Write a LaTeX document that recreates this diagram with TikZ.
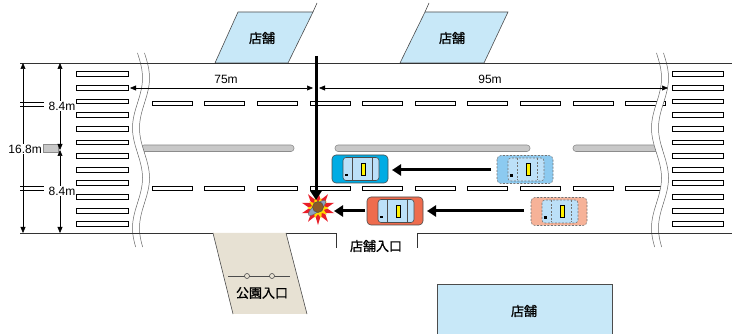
\documentclass[tikz,border=0pt]{standalone}
\usepackage{fontspec}
\setmainfont{Liberation Sans}
\newfontfamily\jp[AutoFakeBold=1.2]{Noto Sans CJK JP}
\usetikzlibrary{arrows.meta,shapes.geometric}

\definecolor{shopblue}{RGB}{200,232,248}
\definecolor{parkbeige}{RGB}{231,225,211}
\definecolor{median}{RGB}{200,200,200}
\definecolor{carblue}{RGB}{0,172,228}
\definecolor{carbluefade}{RGB}{140,202,240}
\definecolor{carred}{RGB}{238,108,78}
\definecolor{carredfade}{RGB}{246,178,152}
\definecolor{glass}{RGB}{188,224,248}
\definecolor{bikeblue}{RGB}{140,160,190}
\definecolor{rider}{RGB}{140,90,40}
\definecolor{boomred}{RGB}{232,30,40}
\definecolor{boomyellow}{RGB}{255,214,0}

% car seen from above, nose to the left; #1,#2 top left corner
\newcommand{\car}[4]{%
\begin{scope}[shift={(#1,#2)}]
\filldraw[fill=#3,#4,rounded corners=4pt] (0,0) rectangle (56,28);
\filldraw[fill=glass,#4,rounded corners=3pt] (11,2.5) rectangle (47,25.5);
\draw[#4] (20,3) -- (20,25) (40,3) -- (40,25);
\filldraw[fill=yellow,draw=black,line width=.4pt] (29,8) rectangle (33,20);
\fill[black] (13,19) rectangle (15.5,21.5);
\end{scope}}

\begin{document}
\begin{tikzpicture}[x=1pt,y=-1pt,
  edge/.style={line width=.7pt,black!80},
  shop/.style={fill=shopblue,draw=black!70,line width=.6pt},
  stripe/.style={fill=white,draw=black,line width=.5pt},
  bar/.style={fill=median,draw=black!45,line width=.6pt,rounded corners=3pt},
  dim/.style={line width=.5pt,{Triangle[length=6pt,width=5pt]}-{Triangle[length=6pt,width=5pt]}},
  move/.style={line width=3pt,-{Triangle[length=9pt,width=11pt]}},
  lbl/.style={font=\fontsize{12}{12}\selectfont,inner sep=1pt},
  jlbl/.style={font=\jp\bfseries\fontsize{13}{13}\selectfont,inner sep=1pt},
  solid car/.style={draw=black!70,line width=.6pt},
  ghost car/.style={draw=black!55,line width=.6pt,dashed,dash pattern=on 2pt off 1.5pt}]
\useasboundingbox (0,0) rectangle (732,334);

% shops beyond the road
\filldraw[shop] (215,63) -- (238,12) -- (313,12) -- (288,63) -- cycle;
\draw[black!70,line width=.6pt] (313,12) -- (317,3);
\node[jlbl] (shopA) at (262,38) {店舗};
\filldraw[shop] (400,63) -- (425,12) -- (508,12) -- (484,63) -- cycle;
\draw[black!70,line width=.6pt] (425,12) -- (429,3);
\node[jlbl] (shopB) at (452,38) {店舗};

% lane lines
\foreach \i in {0,...,9} {
  \filldraw[stripe] ({152+52.6*\i},101.5) rectangle ({152+52.6*\i+40},105.5);
  \filldraw[stripe] ({152+52.6*\i},186) rectangle ({152+52.6*\i+40},190);
}
\draw[black,line width=.5pt] (20,102) -- (44,102) (20,106) -- (44,106);
\draw[black,line width=.5pt] (20,186) -- (44,186) (20,190) -- (44,190);

% median strip
\filldraw[bar] (141,145) rectangle (294,151.5);
\filldraw[bar] (335,145) rectangle (530,151.5);
\filldraw[bar] (573,145) rectangle (662,151.5);
\filldraw[fill=median,draw=black!45,line width=.6pt] (43,144.5) rectangle (58,152);

% crosswalks
\foreach \i in {0,...,11} {
  \filldraw[stripe] (76,{74+13.64*\i-2.4}) rectangle (128,{74+13.64*\i+2.4});
  \filldraw[stripe] (672,{74+13.64*\i-2.4}) rectangle (723,{74+13.64*\i+2.4});
}

% breaks in the road
\foreach \c in {141,660} {
  \fill[white] plot[domain=53:247,variable=\t,samples=60] ({\c-3.5+5*sin(3.6*(\t-53))},\t)
    -- plot[domain=247:53,variable=\t,samples=60] ({\c+3.5+5*sin(3.6*(\t-53))},\t) -- cycle;
  \draw[black!60,line width=.5pt] plot[domain=53:247,variable=\t,samples=60] ({\c-3.5+5*sin(3.6*(\t-53))},\t);
  \draw[black!60,line width=.5pt] plot[domain=53:247,variable=\t,samples=60] ({\c+3.5+5*sin(3.6*(\t-53))},\t);
}

% road edges and entrances
\draw[edge] (20,63) -- (732,63);
\draw[edge] (20,233) -- (213,233);
\draw[edge] (286,233) -- (336,233) -- (336,248);
\draw[edge] (417,248) -- (417,233) -- (732,233);
\node[jlbl] (shopGate) at (376,246) {店舗入口};

% park entrance
\fill[parkbeige] (213,233) -- (286,233) -- (307,314) -- (233,314) -- cycle;
\draw[black!70,line width=.6pt] (213,233) -- (233,314) (286,233) -- (307,314);
\draw[black!70,line width=.8pt] (228,276) -- (290,276);
\filldraw[fill=parkbeige,draw=black!70,line width=.6pt] (247,276) circle (2.5) (272,276) circle (2.5);
\node[jlbl] (parkGate) at (262,293) {公園入口};

% shop across the road
\filldraw[shop] (437,284) rectangle (612,340);
\node[jlbl] (shopC) at (524,311) {店舗};

% dimensions
\coordinate (roadTop) at (23,63); \coordinate (roadBot) at (23,233);
\draw[dim] (roadTop) -- (roadBot);
\coordinate (upTop) at (60,63); \coordinate (upMid) at (60,150);
\coordinate (upBot) at (60,233);
\draw[dim] (upTop) -- (upMid);
\draw[dim] (upMid) -- (upBot);
\node[lbl,fill=white,anchor=east] (wTotal) at (43,149) {16.8m};
\node[lbl,fill=white] (wUp) at (62,106) {8.4m};
\node[lbl,fill=white] (wDown) at (62,191) {8.4m};
\coordinate (leftEnd) at (130,88); \coordinate (spotL) at (313,88);
\coordinate (spotR) at (319,88); \coordinate (rightEnd) at (668,88);
\draw[dim] (leftEnd) -- (spotL);
\draw[dim] (spotR) -- (rightEnd);
\node[lbl] (dLeft) at (226,79) {75m};
\node[lbl] (dRight) at (490,79) {95m};

% vehicles
\car{497}{155.5}{carbluefade}{ghost car}
\car{531}{197.5}{carredfade}{ghost car}
\car{332}{155}{carblue}{solid car}
\car{367}{197}{carred}{solid car}

% crash with the motorbike
\node[star,star points=10,star point ratio=2,minimum size=34pt,fill=boomred,inner sep=0pt] (boom) at (318,208) {};
\node[star,star points=10,star point ratio=1.8,minimum size=22pt,fill=boomyellow,inner sep=0pt,rotate=18] (flash) at (318,208) {};
\node[ellipse,minimum width=22pt,minimum height=7pt,inner sep=0pt,fill=bikeblue,draw=black!60,line width=.4pt,rotate=40] (bike) at (317,208) {};
\filldraw[fill=rider,draw=black!70,line width=.5pt] (318,207) circle (5.5);

% movements
\coordinate (drop) at (316,56); \coordinate (hit) at (316,200);
\draw[move] (drop) -- (hit);
\coordinate (blueFrom) at (491,170); \coordinate (blueTo) at (392,170);
\draw[move] (blueFrom) -- (blueTo);
\coordinate (redFrom) at (524,211); \coordinate (redTo) at (427,211);
\draw[move] (redFrom) -- (redTo);
\coordinate (redOut) at (365,211); \coordinate (redHit) at (334,211);
\draw[move] (redOut) -- (redHit);
\end{tikzpicture}
\end{document}
